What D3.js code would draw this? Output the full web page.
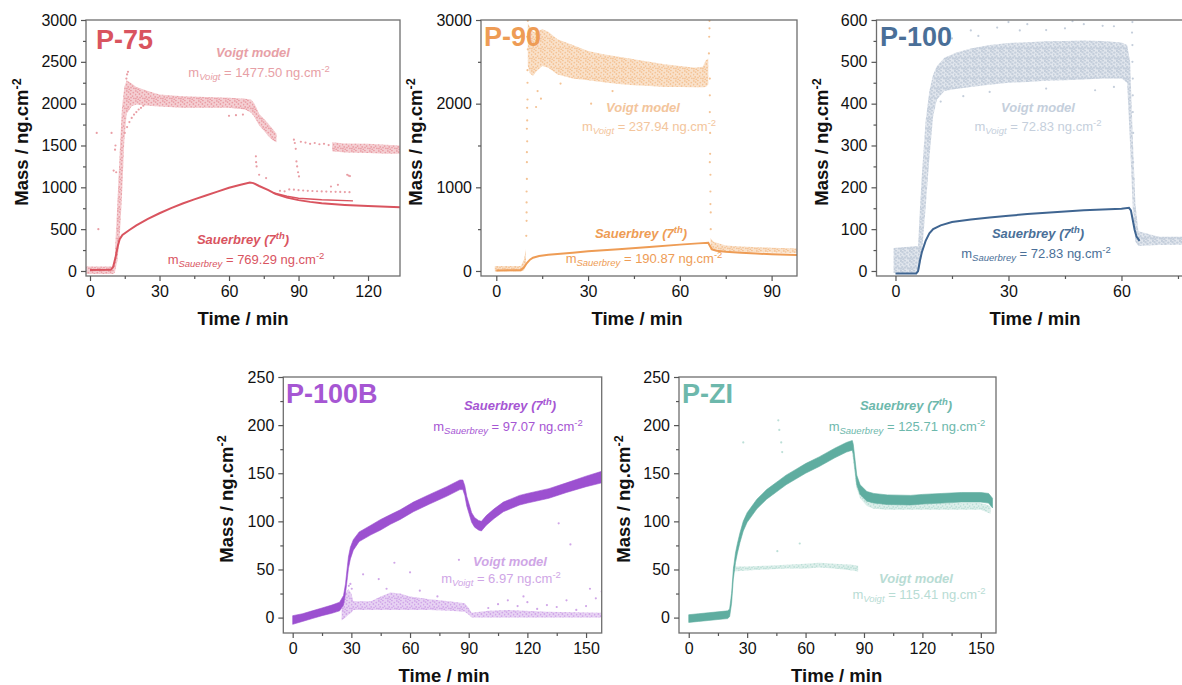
<!DOCTYPE html>
<html>
<head>
<meta charset="utf-8">
<script src="https://cdn.jsdelivr.net/npm/d3@7"></script>
<style>
body { margin: 0; background: #fff; }
svg { display: block; font-family: "Liberation Sans", Arial, sans-serif; }
</style>
</head>
<body>
<svg width="1182" height="685"></svg>
<script>
// ---- data: [time (min), mass (ng/cm2)] or [time, low, high] for noisy clouds ----

// P-75
const p75SauerMain = [[0,12],[9,14],[10,50],[11,160],[12,300],[12.8,380],[14,432],[17,490],[20,545],[25,622],[30,690],[35,752],[40,806],[45,856],[50,902],[55,948],[60,994],[65,1030],[69,1057],[70.5,1050],[73,1016],[77,966],[80,922],[85,877],[90,847],[95,826],[100,810],[110,790],[120,776],[133.8,762]];
const p75SauerBranch = [[79,935],[85,893],[90,870],[100,852],[113.5,838]];
const p75VoigtBase = [[-1.7,-35,55],[10,-35,55],[10.8,-20,120]];
const p75VoigtMain = [[10.8,-10,250],[11.8,120,800],[12.8,400,1400],[13.8,900,1950],[14.8,1550,2200],[15.8,1880,2280],[18,1970,2240],[20,1990,2200],[25,1975,2150],[30,1965,2110],[40,1950,2090],[50,1950,2080],[60,1950,2070],[67,1930,2060],[69.5,1890,2050],[71,1840,2000],[73,1740,1880],[75,1680,1820],[77,1610,1760],[79,1560,1690],[80.5,1540,1640]];
const p75VoigtLate = [[104.5,1430,1540],[110,1415,1525],[120,1410,1520],[128,1400,1510],[133.8,1400,1500]];
const p75VoigtDots = [[2.9,1650],[3.6,500],[9.3,1650],[10.2,1200],[10.8,1450],[11,1500],[11.3,1180],[16,2350],[16.4,2380],[15.7,2300],[15,1650],[16,1720],[17,1780],[18,1830],[19,1870],[20,1900],[21,1930],[22,1950],[23,1975],[60,1855],[63,1862],[66,1870],[71.6,1370],[71.7,1300],[71.9,1250],[73,1150],[76,1110],[88,1570],[88.4,1530],[88.8,1460],[89.1,1310],[89.4,1250],[89.8,1180],[90.2,1130],[91,1545],[93,1535],[95,1520],[97,1530],[99,1515],[101,1520],[103,1505],[111,1150],[111.6,1140],[112.2,1135],[104,1010],[107,1030],[82,958],[84,952],[86,975],[88,972],[90,966],[92,962],[94,958],[96,956],[98,953],[100,951],[102,949],[104,947],[106,946],[108,945],[110,943],[112,942]];

// P-90
const p90SauerLine = [[0,5],[8,10],[9,40],[10,95],[11,135],[12,158],[14,178],[17,193],[20,203],[25,218],[30,235],[40,260],[50,287],[60,315],[66,330],[69.3,338],[69.8,300],[70.5,258],[72,242],[75,230],[80,217],[85,208],[90,200],[98.3,192]];
const p90VoigtBase = [[-0.5,-5,60],[8,-5,60],[9,10,130],[9.7,60,260]];
const p90VoigtMain = [[10.3,2450,2960],[11,2360,2920],[12,2330,2860],[13,2380,2860],[15,2450,2890],[17,2430,2860],[20,2350,2770],[25,2300,2700],[30,2280,2630],[35,2255,2590],[40,2235,2560],[45,2220,2530],[50,2210,2500],[55,2200,2470],[60,2200,2450],[65,2195,2430],[67.5,2195,2440],[68.5,2200,2520],[69.3,2230,2540]];
const p90VoigtLate = [[70,250,390],[71,250,350],[75,240,305],[80,230,292],[90,222,278],[98.3,215,270]];
const p90VoigtDots = [[9.8,420],[9.9,700],[9.9,950],[10,1100],[10,1300],[10.1,1550],[10.1,1800],[10.2,2050],[10.2,2250],[10.3,2990],[10.1,2800],[9.9,600],[10,1700],[9.9,820],[10,1420],[10.1,1950],[10.2,2400],[10.3,2650],[69.5,2600],[69.6,2800],[69.7,2990],[69.7,2900],[69.8,2100],[69.8,1900],[69.9,1650],[69.9,1400],[70,1150],[70,950],[70.1,700],[70.1,500],[69.8,1300],[69.8,2300],[70,800],[13,1960],[14.6,2060],[13.5,2150],[31,2000],[21,2240],[52,1950],[38,2150]];

// P-100
const p100SauerLine = [[0,-6],[5.5,-6],[6,0],[6.5,25],[7,45],[8,72],[9,90],[10,100],[12,109],[15,117],[20,123],[25,128],[30,132],[35,136],[40,139],[45,142],[50,145],[55,147],[60,149],[62,151],[62.5,145],[63,122],[63.5,98],[64,82],[64.8,72]];
const p100VoigtMain = [[-0.5,-5,55],[6,-5,60],[6.5,10,150],[7,40,230],[8,150,360],[9,270,430],[10,370,470],[11,410,490],[13,430,510],[16,435,522],[20,440,532],[25,445,540],[30,450,545],[35,452,547],[40,455,549],[45,456,550],[50,458,551],[55,460,550],[60,460,546],[61.5,450,540],[62.3,300,500],[63,150,320],[63.7,70,160],[64.5,60,95],[70,62,82],[76.5,63,82]];
const p100VoigtDots = [[62.9,595],[62.9,540],[62.9,500],[63,460],[63,420],[63,380],[63.1,330],[63.1,260],[63.2,220],[62.8,570],[12,560],[15,556],[20,575],[27,582],[35,590],[40,576],[47,597],[50,590],[55,586],[58,585],[22,562],[45,580],[18,418],[25,428],[40,436],[53,432],[58,440],[12,405],[30,595],[33,575]];

// P-100B
const p100bSauerBand = [[0,-7,2],[5,-4,4],[10,-1,7],[15,2,10],[20,4.5,13],[24,7,16],[26,13,23],[27,25,35],[28,42,54],[28.5,51,63],[29.5,61,73],[31,70,81],[34,79,89],[40,86,96],[45,91,102],[50,97,107],[55,102,112],[61.7,110,120],[70,118,128],[78.7,126,136],[85.5,133,143],[87,133,143],[88,127,137],[89,116,126],[91.5,99,109],[93,94,104],[95,91,101],[96.5,90,100],[99,96,106],[103,103,113],[107.7,110,120],[116,117,127],[120,119,129],[131,124,134],[140,130,140],[150,136,147],[158,140,152]];
const p100bVoigtBand = [[25,-3,15],[27,0,25],[28.5,3,30],[30,5,25],[31,8,17],[40,8,17],[45,8,22],[50,8,26],[55,8,25],[60,8,22],[70,8,19],[80,7,17],[88,6,15],[90,3,10],[91.5,0,5],[100,0,7],[110,0,8],[130,0,6],[158,0,5]];
const p100bVoigtDots = [[29.5,35],[28.7,33],[30.2,30],[36,45],[44,40],[52,57],[60,47],[100,10],[105,14],[110,18],[115,12],[120,16],[125,9],[130,13],[135,11],[140,18],[145,8],[150,12],[155,20],[158,27],[152,30],[118,22],[85,60],[74,22],[65,28],[48,30],[136,98],[142,76]];

// P-ZI
const pziSauerBand = [[0,-5,3],[5,-4,4],[10,-3,5],[15,-2,6],[20,-1,7],[21,1,9],[22,15,25],[22.9,40,50],[24,57,67],[25,67,77],[26.3,78,88],[28,90,100],[30,99,109],[35,113,123],[40,123,133],[46,132,142],[50,138,148],[55,144,154],[60,150,160],[67,157,167],[75,166,176],[81,172,182],[84,174,184],[84.5,170,180],[86.3,138,148],[88,128,138],[91.5,121,131],[95,119,129],[102,117.5,127.5],[114,117,127],[120,118,128],[130,119,129],[140,120,130],[150,120,130],[154,119,129],[156,114,124]];
const pziVoigtFlat = [[22.8,48,53],[30,49,53],[40,50,54],[50,51,55],[60,51,56],[67,52,57],[75,51,56],[84,49,55],[87,48,54]];
const pziVoigtLate = [[84,170,178],[86,136,146],[88,124,134],[91.5,116,124],[95,113,121],[102,112,119],[114,112,118],[130,112,119],[150,112,119],[155,108,116]];
const pziVoigtDots = [[46,205],[46.5,195],[47.5,182],[48,172],[45.5,69],[57,77],[28,182]];

// tick values
const xMajor = [0, 30, 60, 90, 120, 150];
const xMinor = [15, 45, 75, 105, 135];
const yMajor3000 = [0, 500, 1000, 1500, 2000, 2500, 3000];
const yMinor3000 = [250, 750, 1250, 1750, 2250, 2750];
const yMajor3000b = [0, 1000, 2000, 3000];
const yMinor3000b = [500, 1500, 2500];
const yMajor600 = [0, 100, 200, 300, 400, 500, 600];
const yMinor600 = [50, 150, 250, 350, 450, 550];
const yMajor250 = [0, 50, 100, 150, 200, 250];
const yMinor250 = [25, 75, 125, 175, 225];

// layout + styling per panel
const panels = [
  { name: "P-75", box: [86, 20, 400, 276], xDom: [-1.73, 133.8], yDom: [-60, 3000],
    yMajor: yMajor3000, yMinor: yMinor3000, dark: "#d9545f", light: "#e99ea5", lightText: "#e7a0a6", dotR: 0.9,
    voigtBands: [p75VoigtBase, p75VoigtMain, p75VoigtLate], voigtDots: p75VoigtDots,
    sauerLines: [p75SauerMain, p75SauerBranch], sauerBands: [],
    title: [96, 49], yLab: [28, 142], xLab: [243, 325],
    voigtLab: [253, 57], voigtVal: [259, 77], sauerLab: [243, 244], sauerVal: [246, 264],
    voigtNum: "1477.50", sauerNum: "769.29" },
  { name: "P-90", box: [481, 20, 797, 276], xDom: [-5, 98.3], yDom: [-60, 3000],
    yMajor: yMajor3000b, yMinor: yMinor3000b, dark: "#ee9c55", light: "#f4c395", lightText: "#f3c59c", dotR: 0.9,
    voigtBands: [p90VoigtBase, p90VoigtMain, p90VoigtLate], voigtDots: p90VoigtDots,
    sauerLines: [p90SauerLine], sauerBands: [],
    title: [484, 46], yLab: [421.5, 142], xLab: [637, 325],
    voigtLab: [643, 112], voigtVal: [649, 131], sauerLab: [641, 238], sauerVal: [644, 263],
    voigtNum: "237.94", sauerNum: "190.87" },
  { name: "P-100", box: [876.5, 20, 1184, 276], xDom: [-5.04, 76.6], yDom: [-12, 600],
    yMajor: yMajor600, yMinor: yMinor600, dark: "#3f6591", light: "#c4cedb", lightText: "#c5cfdc", titleColor: "#4a6f98", dotR: 1.2,
    voigtBands: [p100VoigtMain], voigtDots: p100VoigtDots,
    sauerLines: [p100SauerLine], sauerBands: [],
    title: [880, 46], yLab: [828, 142], xLab: [1035, 325],
    voigtLab: [1038, 112], voigtVal: [1038, 131], sauerLab: [1038, 238], sauerVal: [1036, 258],
    voigtNum: "72.83", sauerNum: "72.83" },
  { name: "P-100B", box: [283.3, 377, 601.7, 633], xDom: [-4.8, 158], yDom: [-16, 250],
    yMajor: yMajor250, yMinor: yMinor250, dark: "#9c50d0", light: "#d0a6e8", lightText: "#cfa6e6", titleColor: "#a656d3", dotR: 0.9,
    voigtBands: [p100bVoigtBand], voigtDots: p100bVoigtDots,
    sauerLines: [], sauerBands: [p100bSauerBand],
    title: [286, 403], yLab: [233, 499], xLab: [444, 681.7],
    voigtLab: [510, 566], voigtVal: [501, 583], sauerLab: [510, 410], sauerVal: [508, 431],
    voigtNum: "6.97", sauerNum: "97.07" },
  { name: "P-ZI", box: [679, 377, 996, 633], xDom: [-5, 157.8], yDom: [-16, 250],
    yMajor: yMajor250, yMinor: yMinor250, dark: "#5fada0", light: "#bcdfd7", lightText: "#b8dcd4", titleColor: "#6db8ac", dotR: 0.9,
    voigtBands: [pziVoigtFlat, pziVoigtLate], voigtDots: pziVoigtDots,
    sauerLines: [], sauerBands: [pziSauerBand],
    title: [682, 403], yLab: [630, 499], xLab: [836.7, 681.7],
    voigtLab: [916, 583], voigtVal: [919, 599], sauerLab: [906, 410], sauerVal: [907, 431],
    voigtNum: "115.41", sauerNum: "125.71" }
];

// fixed stipple layout inside one pattern tile, so the clouds read as dense scatter
const stipple = [[0.8,0.9],[4.9,0.4],[2.6,2.1],[7.3,2.6],[0.5,4.6],[4.4,4.0],[6.6,6.1],[2.2,6.9],[5.0,7.6],[0.9,8.6],[7.9,8.3],[3.3,9.3]];

const svg = d3.select("svg");
const defs = svg.append("defs");

function massText(g, pos, sub, num, color) {
  const t = g.append("text")
    .attr("x", pos[0]).attr("y", pos[1])
    .attr("text-anchor", "middle")
    .attr("font-size", 13)
    .attr("fill", color);
  t.append("tspan").text("m");
  t.append("tspan").attr("dy", 3).attr("font-size", 9.5).attr("font-style", "italic").text(sub);
  t.append("tspan").attr("dy", -3).text(` = ${num} ng.cm`);
  t.append("tspan").attr("dy", -5).attr("font-size", 9.5).text("-2");
}

panels.forEach((p, i) => {
  const [l, t, r, b] = p.box;
  const x = d3.scaleLinear().domain(p.xDom).range([l, r]);
  const y = d3.scaleLinear().domain(p.yDom).range([b, t]);
  const g = svg.append("g");

  defs.append("clipPath").attr("id", "clip" + i)
    .append("rect").attr("x", l).attr("y", t).attr("width", r - l).attr("height", b - t);
  const pat = defs.append("pattern").attr("id", "pat" + i)
    .attr("patternUnits", "userSpaceOnUse").attr("width", 9).attr("height", 10);
  pat.append("rect").attr("width", 9).attr("height", 10).attr("fill", p.light).attr("opacity", 0.5);
  pat.selectAll("circle").data(stipple).join("circle")
    .attr("cx", d => d[0]).attr("cy", d => d[1]).attr("r", p.dotR).attr("fill", p.light);

  const plot = g.append("g").attr("clip-path", `url(#clip${i})`);

  const area = d3.area().x(d => x(d[0])).y0(d => y(d[1])).y1(d => y(d[2]));
  const line = d3.line().x(d => x(d[0])).y(d => y(d[1]));

  p.voigtBands.forEach(band => {
    plot.append("path").datum(band).attr("d", area)
      .attr("fill", `url(#pat${i})`);
  });
  plot.selectAll("circle.dot").data(p.voigtDots).join("circle")
    .attr("class", "dot")
    .attr("cx", d => x(d[0])).attr("cy", d => y(d[1]))
    .attr("r", 1.1).attr("fill", p.light);

  p.sauerBands.forEach(band => {
    plot.append("path").datum(band).attr("d", area)
      .attr("fill", p.dark).attr("stroke", p.dark).attr("stroke-width", 0.6);
  });
  p.sauerLines.forEach((ln, k) => {
    plot.append("path").datum(ln).attr("d", line)
      .attr("fill", "none").attr("stroke", p.dark)
      .attr("stroke-width", k === 0 ? 2 : 1.4);
  });

  // frame
  g.append("rect").attr("x", l).attr("y", t).attr("width", r - l).attr("height", b - t)
    .attr("fill", "none").attr("stroke", "#6e6e6e").attr("stroke-width", 1.3);

  // axes
  const xIn = v => v >= p.xDom[0] && v <= p.xDom[1];
  const styleAxis = sel => {
    sel.select(".domain").remove();
    sel.selectAll("line").attr("stroke", "#555").attr("stroke-width", 1.2);
    sel.selectAll("text").attr("font-size", 16).attr("fill", "#111");
  };
  g.append("g").attr("transform", `translate(0,${b})`)
    .call(d3.axisBottom(x).tickValues(xMajor.filter(xIn)).tickSize(5).tickPadding(5).tickFormat(d3.format("d")))
    .call(styleAxis);
  g.append("g").attr("transform", `translate(0,${b})`)
    .call(d3.axisBottom(x).tickValues(xMinor.filter(xIn)).tickSize(3).tickFormat(""))
    .call(styleAxis);
  g.append("g").attr("transform", `translate(${l},0)`)
    .call(d3.axisLeft(y).tickValues(p.yMajor).tickSize(5).tickPadding(4).tickFormat(d3.format("d")))
    .call(styleAxis);
  g.append("g").attr("transform", `translate(${l},0)`)
    .call(d3.axisLeft(y).tickValues(p.yMinor).tickSize(3).tickFormat(""))
    .call(styleAxis);

  // axis titles
  g.append("text").attr("x", p.xLab[0]).attr("y", p.xLab[1])
    .attr("text-anchor", "middle").attr("font-size", 18.5).attr("font-weight", "bold")
    .attr("fill", "#111").text("Time / min");
  const yl = g.append("text")
    .attr("transform", `translate(${p.yLab[0]},${p.yLab[1]}) rotate(-90)`)
    .attr("text-anchor", "middle").attr("font-size", 18.5).attr("font-weight", "bold").attr("fill", "#111");
  yl.append("tspan").text("Mass / ng.cm");
  yl.append("tspan").attr("dy", -7).attr("font-size", 12.5).text("-2");

  // panel title
  g.append("text").attr("x", p.title[0]).attr("y", p.title[1])
    .attr("font-size", 27).attr("font-weight", "bold")
    .attr("fill", p.titleColor || p.dark).text(p.name);

  // annotations
  const sauerColor = p.titleColor || p.dark;
  g.append("text").attr("x", p.voigtLab[0]).attr("y", p.voigtLab[1])
    .attr("text-anchor", "middle").attr("font-size", 13).attr("font-weight", "bold").attr("font-style", "italic")
    .attr("fill", p.lightText).text("Voigt model");
  massText(g, p.voigtVal, "Voigt", p.voigtNum, p.lightText);

  const sl = g.append("text").attr("x", p.sauerLab[0]).attr("y", p.sauerLab[1])
    .attr("text-anchor", "middle").attr("font-size", 13).attr("font-weight", "bold").attr("font-style", "italic")
    .attr("fill", sauerColor);
  sl.append("tspan").text("Sauerbrey (7");
  sl.append("tspan").attr("dy", -5).attr("font-size", 9.5).text("th");
  sl.append("tspan").attr("dy", 5).text(")");
  massText(g, p.sauerVal, "Sauerbrey", p.sauerNum, sauerColor);
});
</script>
</body>
</html>
